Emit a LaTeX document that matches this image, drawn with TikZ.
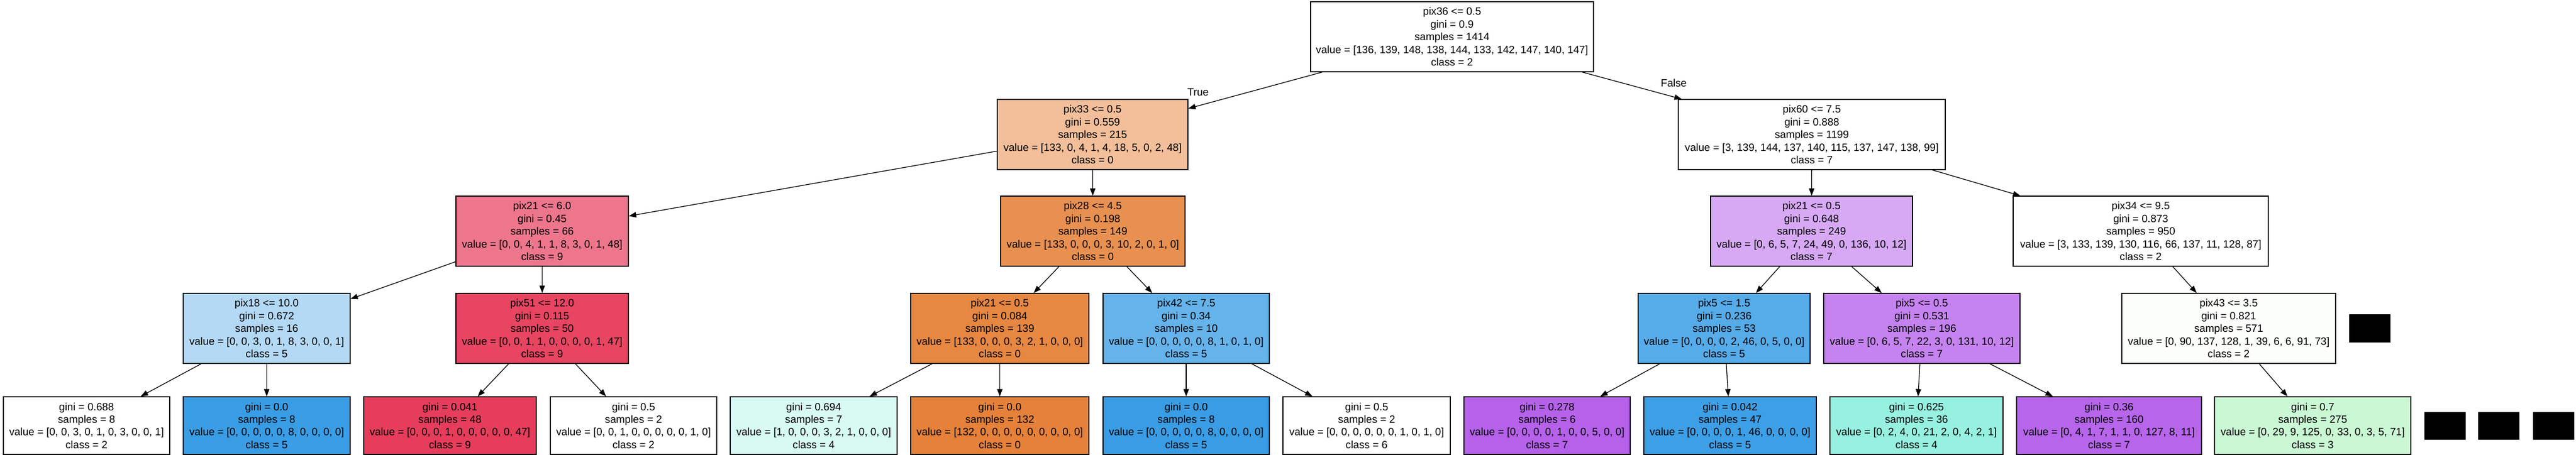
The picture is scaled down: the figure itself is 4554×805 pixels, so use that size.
\documentclass[tikz,border=0pt]{standalone}
\usepackage{fontspec}
\setmainfont{Liberation Sans}
\usetikzlibrary{arrows.meta}
\newcommand{\treefont}{\fontsize{18.67}{22.4}\selectfont}
\definecolor{cpixA}{RGB}{242,191,154}
\definecolor{cpixB}{RGB}{237,118,140}
\definecolor{cpixC}{RGB}{232,144,80}
\definecolor{cpixD}{RGB}{215,169,244}
\definecolor{cpixE}{RGB}{179,217,245}
\definecolor{cpixF}{RGB}{231,69,98}
\definecolor{cpixG}{RGB}{230,135,66}
\definecolor{cpixH}{RGB}{101,179,235}
\definecolor{cpixI}{RGB}{86,171,233}
\definecolor{cpixJ}{RGB}{197,131,239}
\definecolor{cpixK}{RGB}{252,254,251}
\definecolor{cblue}{RGB}{57,157,229}
\definecolor{credL}{RGB}{230,61,92}
\definecolor{ccyanL}{RGB}{215,250,243}
\definecolor{corgL}{RGB}{229,129,57}
\definecolor{cpurL}{RGB}{181,97,234}
\definecolor{cblueL}{RGB}{61,159,230}
\definecolor{caquaL}{RGB}{150,241,224}
\definecolor{cpurM}{RGB}{183,101,235}
\definecolor{cgrnL}{RGB}{203,248,212}
\tikzset{
  tnode/.style={draw=black, line width=1.3pt, rectangle, inner sep=0pt, align=center, font=\treefont, minimum height=124pt, fill=white},
  tleaf/.style={tnode, minimum height=102pt},
  tedge/.style={-{Triangle[length=13pt,width=9.5pt]}, line width=1.3pt},
  tlabel/.style={font=\treefont, inner sep=0pt},
  blk/.style={fill=black, draw=none, minimum width=73pt, inner sep=0pt},
}
\begin{document}
\begin{tikzpicture}[x=1pt,y=-1pt]
\useasboundingbox (0,0) rectangle (4554,805);
% level 0
\node[tnode, minimum width=500pt] (root) at (2567,65) {pix36 <= 0.5\\gini = 0.9\\samples = 1414\\value = [136, 139, 148, 138, 144, 133, 142, 147, 140, 147]\\class = 2};
% level 1
\node[tnode, fill=cpixA, minimum width=337pt] (n33) at (1931.5,238) {pix33 <= 0.5\\gini = 0.559\\samples = 215\\value = [133, 0, 4, 1, 4, 18, 5, 0, 2, 48]\\class = 0};
\node[tnode, minimum width=472pt] (n60) at (3203,238) {pix60 <= 7.5\\gini = 0.888\\samples = 1199\\value = [3, 139, 144, 137, 140, 115, 137, 147, 138, 99]\\class = 7};
% level 2
\node[tnode, fill=cpixB, minimum width=305pt] (n21a) at (958.5,409) {pix21 <= 6.0\\gini = 0.45\\samples = 66\\value = [0, 0, 4, 1, 1, 8, 3, 0, 1, 48]\\class = 9};
\node[tnode, fill=cpixC, minimum width=326pt] (n28) at (1932,409) {pix28 <= 4.5\\gini = 0.198\\samples = 149\\value = [133, 0, 0, 0, 3, 10, 2, 0, 1, 0]\\class = 0};
\node[tnode, fill=cpixD, minimum width=357pt] (n21p) at (3202.5,409) {pix21 <= 0.5\\gini = 0.648\\samples = 249\\value = [0, 6, 5, 7, 24, 49, 0, 136, 10, 12]\\class = 7};
\node[tnode, minimum width=451pt] (n34) at (3784.5,409) {pix34 <= 9.5\\gini = 0.873\\samples = 950\\value = [3, 133, 139, 130, 116, 66, 137, 11, 128, 87]\\class = 2};
% level 3
\node[tnode, fill=cpixE, minimum width=295pt] (n18) at (471.5,581) {pix18 <= 10.0\\gini = 0.672\\samples = 16\\value = [0, 0, 3, 0, 1, 8, 3, 0, 0, 1]\\class = 5};
\node[tnode, fill=cpixF, minimum width=305pt] (n51) at (958.5,581) {pix51 <= 12.0\\gini = 0.115\\samples = 50\\value = [0, 0, 1, 1, 0, 0, 0, 0, 1, 47]\\class = 9};
\node[tnode, fill=cpixG, minimum width=315pt] (n21o) at (1767.5,581) {pix21 <= 0.5\\gini = 0.084\\samples = 139\\value = [133, 0, 0, 0, 3, 2, 1, 0, 0, 0]\\class = 0};
\node[tnode, fill=cpixH, minimum width=294pt] (n42) at (2097,581) {pix42 <= 7.5\\gini = 0.34\\samples = 10\\value = [0, 0, 0, 0, 0, 8, 1, 0, 1, 0]\\class = 5};
\node[tnode, fill=cpixI, minimum width=304pt] (n5a) at (3048,581) {pix5 <= 1.5\\gini = 0.236\\samples = 53\\value = [0, 0, 0, 0, 2, 46, 0, 5, 0, 0]\\class = 5};
\node[tnode, fill=cpixJ, minimum width=347pt] (n5b) at (3397.5,581) {pix5 <= 0.5\\gini = 0.531\\samples = 196\\value = [0, 6, 5, 7, 22, 3, 0, 131, 10, 12]\\class = 7};
\node[tnode, fill=cpixK, minimum width=378pt] (n43) at (3940,581) {pix43 <= 3.5\\gini = 0.821\\samples = 571\\value = [0, 90, 137, 128, 1, 39, 6, 6, 91, 73]\\class = 2};
\node[blk, minimum height=50pt] (b1) at (4189.5,581) {};
% level 4
\node[tleaf, minimum width=294pt] (l1) at (153,753) {gini = 0.688\\samples = 8\\value = [0, 0, 3, 0, 1, 0, 3, 0, 0, 1]\\class = 2};
\node[tleaf, fill=cblue, minimum width=295pt] (l2) at (471.5,753) {gini = 0.0\\samples = 8\\value = [0, 0, 0, 0, 0, 8, 0, 0, 0, 0]\\class = 5};
\node[tleaf, fill=credL, minimum width=305pt] (l3) at (795.5,753) {gini = 0.041\\samples = 48\\value = [0, 0, 0, 1, 0, 0, 0, 0, 0, 47]\\class = 9};
\node[tleaf, minimum width=294pt] (l4) at (1120,753) {gini = 0.5\\samples = 2\\value = [0, 0, 1, 0, 0, 0, 0, 0, 1, 0]\\class = 2};
\node[tleaf, fill=ccyanL, minimum width=295pt] (l5) at (1438.5,753) {gini = 0.694\\samples = 7\\value = [1, 0, 0, 0, 3, 2, 1, 0, 0, 0]\\class = 4};
\node[tleaf, fill=corgL, minimum width=315pt] (l6) at (1767.5,753) {gini = 0.0\\samples = 132\\value = [132, 0, 0, 0, 0, 0, 0, 0, 0, 0]\\class = 0};
\node[tleaf, fill=cblue, minimum width=294pt] (l7) at (2097,753) {gini = 0.0\\samples = 8\\value = [0, 0, 0, 0, 0, 8, 0, 0, 0, 0]\\class = 5};
\node[tleaf, minimum width=296pt] (l8) at (2416,753) {gini = 0.5\\samples = 2\\value = [0, 0, 0, 0, 0, 0, 1, 0, 1, 0]\\class = 6};
\node[tleaf, fill=cpurL, minimum width=294pt] (l9) at (2735,753) {gini = 0.278\\samples = 6\\value = [0, 0, 0, 0, 1, 0, 0, 5, 0, 0]\\class = 7};
\node[tleaf, fill=cblueL, minimum width=305pt] (l10) at (3058.5,753) {gini = 0.042\\samples = 47\\value = [0, 0, 0, 0, 1, 46, 0, 0, 0, 0]\\class = 5};
\node[tleaf, fill=caquaL, minimum width=306pt] (l11) at (3388,753) {gini = 0.625\\samples = 36\\value = [0, 2, 4, 0, 21, 2, 0, 4, 2, 1]\\class = 4};
\node[tleaf, fill=cpurM, minimum width=327pt] (l12) at (3728.5,753) {gini = 0.36\\samples = 160\\value = [0, 4, 1, 7, 1, 1, 0, 127, 8, 11]\\class = 7};
\node[tleaf, fill=cgrnL, minimum width=347pt] (l13) at (4088.5,753) {gini = 0.7\\samples = 275\\value = [0, 29, 9, 125, 0, 33, 0, 3, 5, 71]\\class = 3};
\node[blk, minimum height=49pt] (b2) at (4322.5,753.5) {};
\node[blk, minimum height=49pt] (b3) at (4417.5,753.5) {};
\node[blk, minimum height=49pt] (b4) at (4514,753.5) {};
% edges
\draw[tedge] (root) -- (n33);
\draw[tedge] (root) -- (n60);
\node[tlabel] (tT) at (2118,163) {True};
\node[tlabel] (tF) at (2959,147) {False};
\draw[tedge] (n33) -- (n21a);
\draw[tedge] (n33) -- (n28);
\draw[tedge] (n21a) -- (n18);
\draw[tedge] (n21a) -- (n51);
\draw[tedge] (n18) -- (l1);
\draw[tedge] (n18) -- (l2);
\draw[tedge] (n51) -- (l3);
\draw[tedge] (n51) -- (l4);
\draw[tedge] (n28) -- (n21o);
\draw[tedge] (n28) -- (n42);
\draw[tedge] (n21o) -- (l5);
\draw[tedge] (n21o) -- (l6);
\draw[tedge] (n42) -- (l7);
\draw[tedge] (n42) -- (l8);
\draw[tedge] (n60) -- (n21p);
\draw[tedge] (n60) -- (n34);
\draw[tedge] (n21p) -- (n5a);
\draw[tedge] (n21p) -- (n5b);
\draw[tedge] (n5a) -- (l9);
\draw[tedge] (n5a) -- (l10);
\draw[tedge] (n5b) -- (l11);
\draw[tedge] (n5b) -- (l12);
\draw[tedge] (n34) -- (n43);
\draw[tedge] (n43) -- (l13);
\end{tikzpicture}
\end{document}
